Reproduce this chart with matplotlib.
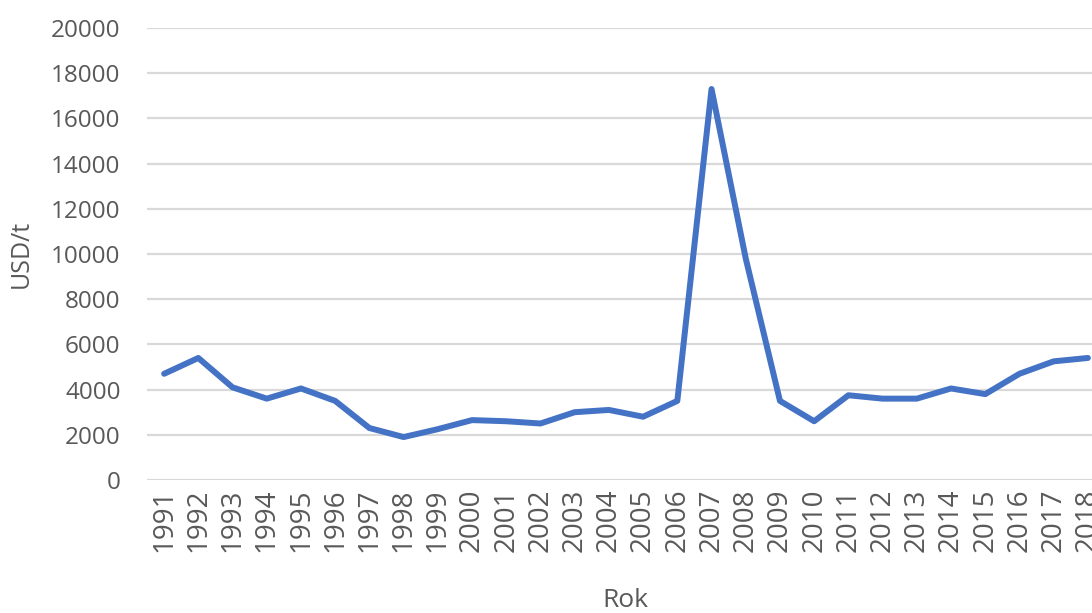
import matplotlib
matplotlib.use("Agg")
import matplotlib.pyplot as plt

years = [str(y) for y in range(1991, 2019)]
prices = [4700, 5400, 4100, 3600, 4050, 3500, 2300, 1900, 2250, 2650,
          2600, 2500, 3000, 3100, 2800, 3500, 17300, 9800, 3500, 2600,
          3750, 3600, 3600, 4050, 3800, 4700, 5250, 5400]
y_ticks = list(range(0, 20001, 2000))

FONT = ["Open Sans", "DejaVu Sans"]
GREY = "#595959"

fig = plt.figure(figsize=(10.92, 6.13), dpi=100)
ax = fig.add_axes([147 / 1092, 1 - 480 / 613, (1105 - 147) / 1092, (480 - 28) / 613])

x = list(range(len(years)))
ax.plot(x, prices, color="#4472C4", linewidth=4.3, solid_capstyle="round",
        solid_joinstyle="round", zorder=3)

ax.set_xlim(-0.5, len(years) - 0.5)
ax.set_ylim(0, 20000)
ax.set_yticks(y_ticks)
ax.set_yticklabels([str(v) for v in y_ticks], fontsize=17.5, color=GREY, family=FONT)
ax.set_xticks(x)
ax.set_xticklabels(years, rotation=90, fontsize=20, color=GREY, family=FONT)
ax.tick_params(axis="both", length=0)
ax.tick_params(axis="y", pad=19)
ax.tick_params(axis="x", pad=6)

ax.grid(axis="y", color="#d9d9d9", linewidth=1.6, zorder=0)
for spine in ax.spines.values():
    spine.set_visible(False)

ax.set_ylabel("USD/t", fontsize=18, color=GREY, family=FONT)
ax.yaxis.set_label_coords(-0.118, 0.5)
ax.set_xlabel("Rok", fontsize=19, color=GREY, family=FONT)
ax.xaxis.set_label_coords(0.499, -0.238)

fig.savefig("out.png", dpi=100)
